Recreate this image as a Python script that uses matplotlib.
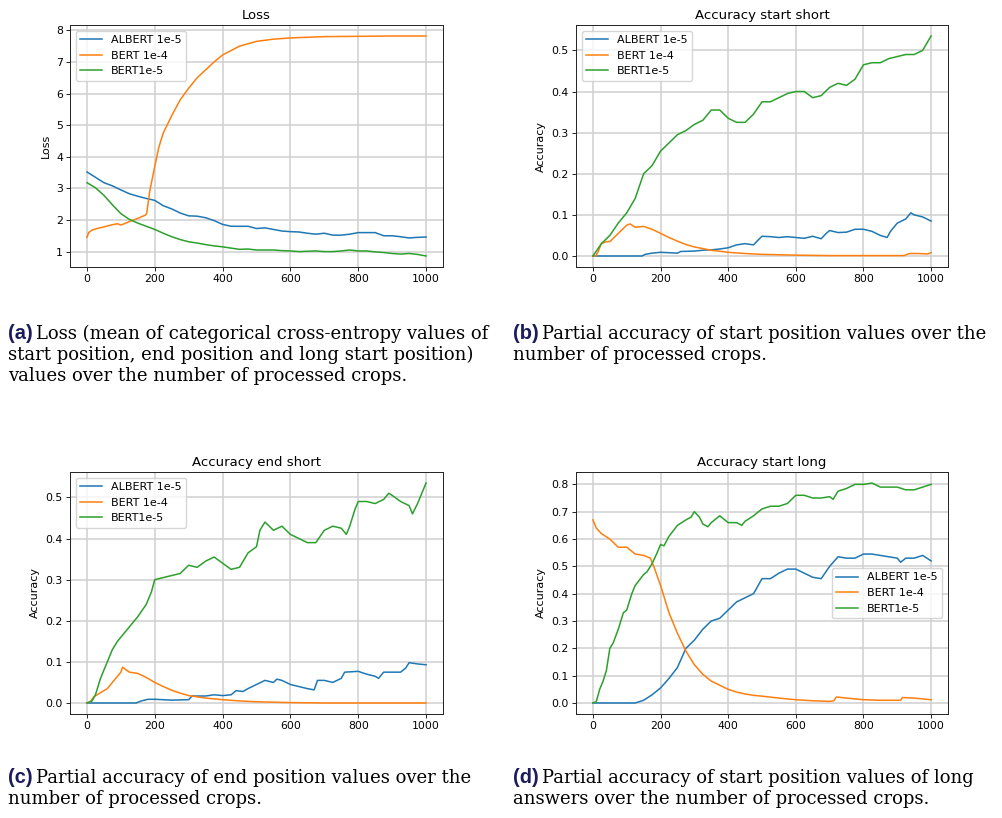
import matplotlib
matplotlib.use("Agg")
import matplotlib.pyplot as plt
import numpy as np

# common x grid (every 25 processed crops)
steps = np.arange(0, 1001, 25)

# --- (a) Loss ---
loss_albert = [3.52, 3.35, 3.18, 3.08, 2.95, 2.83, 2.75, 2.68, 2.62, 2.45, 2.35, 2.22, 2.13, 2.12,
               2.07, 1.98, 1.86, 1.80, 1.80, 1.80, 1.73, 1.75, 1.70, 1.65, 1.63, 1.62, 1.58, 1.55,
               1.58, 1.52, 1.52, 1.55, 1.60, 1.60, 1.60, 1.50, 1.50, 1.47, 1.43, 1.45, 1.46]
loss_bert4_x = [0, 5, 15, 30, 50, 75, 90, 100, 110, 125, 150, 165, 172, 176, 185, 200, 212, 225, 250,
                275, 300, 325, 350, 375, 400, 450, 500, 550, 600, 650, 700, 800, 900, 1000]
loss_bert4 = [1.45, 1.60, 1.68, 1.73, 1.78, 1.85, 1.88, 1.84, 1.88, 1.95, 2.05, 2.12, 2.15, 2.2, 2.9,
              3.7, 4.3, 4.75, 5.3, 5.8, 6.17, 6.5, 6.75, 7.0, 7.22, 7.5, 7.65, 7.72, 7.76, 7.78, 7.80,
              7.81, 7.82, 7.82]
loss_bert5 = [3.18, 3.02, 2.78, 2.48, 2.20, 2.02, 1.90, 1.80, 1.70, 1.58, 1.47, 1.38, 1.31, 1.27,
              1.22, 1.18, 1.15, 1.11, 1.07, 1.08, 1.05, 1.05, 1.05, 1.03, 1.02, 1.00, 1.01, 1.02,
              1.00, 1.00, 1.02, 1.05, 1.02, 1.02, 0.99, 0.97, 0.94, 0.92, 0.94, 0.91, 0.86]

# --- (b) Accuracy start short ---
ss_albert_x = [0, 145, 155, 175, 200, 250, 260, 300, 325, 350, 375, 400, 425, 450, 475, 490, 500, 525,
               550, 575, 600, 625, 650, 675, 690, 700, 725, 750, 775, 800, 825, 850, 870, 880, 900,
               925, 940, 950, 975, 1000]
ss_albert = [0, 0, 0.004, 0.007, 0.009, 0.007, 0.011, 0.012, 0.014, 0.015, 0.017, 0.02, 0.027, 0.03,
             0.027, 0.04, 0.048, 0.047, 0.045, 0.047, 0.045, 0.043, 0.048, 0.042, 0.055, 0.062, 0.057,
             0.058, 0.065, 0.065, 0.06, 0.05, 0.045, 0.06, 0.08, 0.09, 0.105, 0.10, 0.095, 0.085]
ss_bert4_x = [0, 8, 15, 25, 40, 50, 75, 100, 110, 125, 150, 175, 200, 225, 250, 275, 300, 325, 350,
              400, 450, 500, 600, 700, 800, 920, 935, 960, 990, 1000]
ss_bert4 = [0, 0, 0.01, 0.03, 0.035, 0.035, 0.055, 0.075, 0.078, 0.07, 0.072, 0.065, 0.055, 0.045,
            0.036, 0.028, 0.022, 0.018, 0.014, 0.009, 0.006, 0.004, 0.002, 0.001, 0.001, 0.001,
            0.006, 0.006, 0.005, 0.008]
ss_bert5 = [0.0, 0.03, 0.05, 0.08, 0.105, 0.14, 0.20, 0.22, 0.255, 0.275, 0.295, 0.305, 0.32, 0.33,
            0.355, 0.355, 0.335, 0.325, 0.325, 0.345, 0.375, 0.375, 0.385, 0.395, 0.40, 0.40, 0.385,
            0.39, 0.41, 0.42, 0.415, 0.43, 0.465, 0.47, 0.47, 0.48, 0.485, 0.49, 0.49, 0.50, 0.535]

# --- (c) Accuracy end short ---
es_albert_x = [0, 145, 160, 180, 200, 250, 300, 310, 325, 350, 375, 400, 425, 440, 460, 475, 500, 525,
               550, 560, 575, 600, 625, 650, 670, 680, 700, 725, 750, 760, 800, 825, 850, 860, 875,
               900, 925, 940, 950, 975, 1000]
es_albert = [0, 0, 0.005, 0.009, 0.009, 0.007, 0.008, 0.017, 0.017, 0.017, 0.02, 0.018, 0.02, 0.03,
             0.028, 0.035, 0.045, 0.055, 0.05, 0.058, 0.055, 0.045, 0.04, 0.035, 0.032, 0.055, 0.055,
             0.05, 0.06, 0.075, 0.077, 0.07, 0.065, 0.06, 0.075, 0.075, 0.075, 0.085, 0.098, 0.095,
             0.093]
es_bert4_x = [0, 10, 20, 40, 60, 80, 100, 105, 125, 150, 175, 200, 225, 250, 275, 300, 325, 350, 400,
              450, 500, 550, 600, 700, 1000]
es_bert4 = [0, 0.003, 0.015, 0.025, 0.035, 0.055, 0.075, 0.087, 0.075, 0.072, 0.062, 0.05, 0.04,
            0.031, 0.024, 0.018, 0.015, 0.012, 0.008, 0.005, 0.003, 0.002, 0.001, 0.0, 0.0]
es_bert5_x = [0, 15, 25, 40, 50, 60, 75, 90, 100, 125, 150, 175, 190, 200, 225, 250, 275, 300, 325,
              350, 375, 400, 425, 450, 475, 500, 510, 525, 550, 575, 600, 625, 650, 675, 700, 725,
              750, 765, 775, 790, 800, 825, 850, 875, 890, 900, 925, 950, 960, 975, 1000]
es_bert5 = [0, 0.005, 0.02, 0.06, 0.08, 0.10, 0.13, 0.15, 0.16, 0.185, 0.21, 0.24, 0.27, 0.30, 0.305,
            0.31, 0.315, 0.335, 0.33, 0.345, 0.355, 0.34, 0.325, 0.33, 0.365, 0.38, 0.42, 0.44, 0.42,
            0.43, 0.41, 0.40, 0.39, 0.39, 0.42, 0.43, 0.425, 0.41, 0.43, 0.47, 0.49, 0.49, 0.485,
            0.495, 0.51, 0.505, 0.49, 0.48, 0.46, 0.485, 0.535]

# --- (d) Accuracy start long ---
sl_albert_x = [0, 125, 150, 175, 200, 225, 250, 275, 300, 325, 350, 375, 400, 425, 450, 475, 500, 525,
               550, 575, 600, 625, 650, 675, 700, 725, 750, 775, 800, 825, 850, 875, 900, 910, 925,
               950, 975, 1000]
sl_albert = [0, 0, 0.01, 0.03, 0.055, 0.09, 0.13, 0.20, 0.23, 0.27, 0.30, 0.31, 0.34, 0.37, 0.385,
             0.40, 0.455, 0.455, 0.475, 0.49, 0.49, 0.475, 0.46, 0.455, 0.50, 0.535, 0.53, 0.53,
             0.545, 0.545, 0.54, 0.535, 0.53, 0.515, 0.53, 0.53, 0.54, 0.52]
sl_bert4_x = [0, 10, 25, 50, 75, 100, 125, 150, 170, 180, 200, 225, 250, 275, 300, 325, 350, 375, 400,
              425, 450, 475, 500, 550, 600, 650, 700, 712, 720, 750, 800, 850, 910, 915, 950, 1000]
sl_bert4 = [0.67, 0.64, 0.62, 0.60, 0.57, 0.57, 0.545, 0.54, 0.53, 0.50, 0.43, 0.33, 0.255, 0.19,
            0.14, 0.105, 0.08, 0.065, 0.05, 0.04, 0.033, 0.028, 0.025, 0.018, 0.012, 0.008, 0.006,
            0.008, 0.022, 0.018, 0.012, 0.01, 0.01, 0.02, 0.018, 0.012]
sl_bert5_x = [0, 10, 20, 30, 40, 50, 60, 75, 90, 100, 115, 125, 150, 160, 175, 190, 200, 210, 225,
              250, 275, 290, 300, 315, 325, 340, 350, 375, 400, 425, 440, 450, 475, 500, 525, 550,
              575, 600, 625, 650, 675, 700, 710, 725, 750, 775, 800, 825, 850, 875, 900, 925, 950,
              975, 1000]
sl_bert5 = [0, 0.005, 0.05, 0.08, 0.12, 0.20, 0.22, 0.27, 0.33, 0.34, 0.40, 0.43, 0.47, 0.48, 0.51,
            0.55, 0.58, 0.575, 0.61, 0.65, 0.67, 0.68, 0.70, 0.68, 0.655, 0.645, 0.66, 0.685, 0.66,
            0.66, 0.65, 0.665, 0.685, 0.71, 0.72, 0.72, 0.73, 0.76, 0.76, 0.75, 0.75, 0.755, 0.745,
            0.775, 0.785, 0.80, 0.80, 0.805, 0.79, 0.79, 0.79, 0.78, 0.78, 0.79, 0.80]

labels = ["ALBERT 1e-5", "BERT 1e-4", "BERT1e-5"]
colors = ["#1f77b4", "#ff7f0e", "#2ca02c"]

fig = plt.figure(figsize=(10.02, 8.18), dpi=100)
W, H = 1002, 818


def make_axes(left, top, right, bottom):
    return fig.add_axes([left / W, 1 - bottom / H, (right - left) / W, (bottom - top) / H])


def style(ax, title, ylabel, legend_loc):
    ax.set_title(title, fontsize=9.5, pad=4)
    ax.set_ylabel(ylabel, fontsize=8)
    ax.set_xticks([0, 200, 400, 600, 800, 1000])
    ax.tick_params(labelsize=7.8, width=0.6, length=2.6, pad=2.5)
    ax.grid(True, color="#d0d0d0", lw=1.1)
    ax.set_axisbelow(True)
    for s in ax.spines.values():
        s.set_linewidth(0.7)
        s.set_color("#222222")
    ax.legend(loc=legend_loc, fontsize=8, handlelength=2.0, borderpad=0.4, labelspacing=0.5)


panels = [
    (make_axes(70, 25, 443, 267), "Loss", "Loss", "upper left",
     [(steps, loss_albert), (loss_bert4_x, loss_bert4), (steps, loss_bert5)]),
    (make_axes(576, 25, 948, 267), "Accuracy start short", "Accuracy", "upper left",
     [(ss_albert_x, ss_albert), (ss_bert4_x, ss_bert4), (steps, ss_bert5)]),
    (make_axes(70, 472, 443, 714), "Accuracy end short", "Accuracy", "upper left",
     [(es_albert_x, es_albert), (es_bert4_x, es_bert4), (es_bert5_x, es_bert5)]),
    (make_axes(576, 472, 948, 714), "Accuracy start long", "Accuracy", "center right",
     [(sl_albert_x, sl_albert), (sl_bert4_x, sl_bert4), (sl_bert5_x, sl_bert5)]),
]

for ax, title, ylabel, loc, series in panels:
    for (x, y), lab, c in zip(series, labels, colors):
        ax.plot(x, y, color=c, lw=1.1, label=lab)
    style(ax, title, ylabel, loc)

# captions
captions = [
    ("(a)", 8, 339, ["Loss (mean of categorical cross-entropy values of",
                     "start position, end position and long start position)",
                     "values over the number of processed crops."]),
    ("(b)", 513, 339, ["Partial accuracy of start position values over the",
                       "number of processed crops."]),
    ("(c)", 8, 783, ["Partial accuracy of end position values over the",
                     "number of processed crops."]),
    ("(d)", 513, 783, ["Partial accuracy of start position values of long",
                       "answers over the number of processed crops."]),
]

serif = ["DejaVu Serif", "Liberation Serif"]
line_gap = 21
fig.canvas.draw()
renderer = fig.canvas.get_renderer()

# size the caption font so the first caption line spans about the same width as in the figure
probe = fig.text(0, 0, captions[0][3][0], fontsize=12, family=serif)
cap_size = 12 * 450 / probe.get_window_extent(renderer).width
probe.remove()

for tag, x0, y0, lines in captions:
    t = fig.text(x0 / W, 1 - y0 / H, tag, fontsize=cap_size + 1.5, fontweight="bold",
                 family=["Liberation Sans", "DejaVu Sans"], color="#1c1c5c", va="baseline")
    bb = t.get_window_extent(renderer)
    fig.text((bb.x1 + 3) / W, 1 - y0 / H, lines[0], fontsize=cap_size,
             family=serif, va="baseline")
    for i, line in enumerate(lines[1:], start=1):
        fig.text(x0 / W, 1 - (y0 + i * line_gap) / H, line, fontsize=cap_size,
                 family=serif, va="baseline")

fig.savefig("out.png", dpi=100)
